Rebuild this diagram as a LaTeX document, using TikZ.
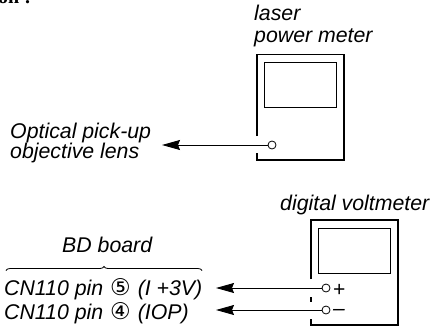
\documentclass[tikz,border=0pt]{standalone}
\usepackage{fontspec}
\setmainfont{Liberation Sans}
\newfontfamily\circfont{DejaVu Sans}
\newfontfamily\headfont{Liberation Serif}
\usetikzlibrary{arrows.meta}
\usetikzlibrary{decorations.pathreplacing}
\newcommand{\pinmark}[1]{\hspace{1pt}{\circfont\upshape\fontsize{23}{23}\selectfont #1}\hspace{7pt}}
\tikzset{
  lbl/.style={font=\itshape\fontsize{21.3}{21.3}\selectfont,inner sep=0pt,anchor=base west},
  sign/.style={font=\itshape\fontsize{21}{21}\selectfont,inner sep=0pt},
  meter/.style={line width=1.5pt},
  screen/.style={draw,line width=0.9pt,minimum width=72pt,minimum height=45pt,inner sep=0pt,anchor=north west},
  lead/.style={line width=0.9pt,-{Stealth[length=18pt,width=10pt,inset=2pt]}},
  jack/.style={circle,draw,fill=white,line width=0.8pt,minimum size=8pt,inner sep=0pt},
}
\begin{document}
\begin{tikzpicture}[x=1pt,y=-1pt]
\useasboundingbox (0,0) rectangle (430,329);
\node[inner sep=0pt,anchor=base west,font=\headfont\bfseries\fontsize{20}{20}\selectfont] (cut) at (-2,3.5) {on :};

% power meter
\draw[meter] (257,136) -- (257,54.5) -- (344,54.5) -- (344,160) -- (257,160) -- (257,153);
\node[screen] (screenA) at (264,62) {};
\node[jack] (jackA) at (272,145) {};
\coordinate (tipA) at (162,145);
\draw[lead] (jackA) -- (tipA);
\node[lbl] (laser) at (254,21) {laser};
\node[lbl] (pmeter) at (254,42) {power meter};
\node[lbl] (pickup) at (10,138) {Optical pick-up};
\node[lbl] (lens) at (10,158) {objective lens};

% voltmeter
\draw[meter] (311,279) -- (311,220) -- (398,220) -- (398,325) -- (311,325) -- (311,319);
\draw[meter] (311,297) -- (311,302);
\node[screen] (screenB) at (318,227.5) {};
\node[jack] (jackP) at (326,288) {};
\node[jack] (jackM) at (326,310) {};
\coordinate (tipP) at (216,288);
\coordinate (tipM) at (216,310);
\draw[lead] (jackP) -- (tipP);
\draw[lead] (jackM) -- (tipM);
\node[sign] (plus) at (339,290) {+};
\node[sign] (minus) at (339,312) {–};
\node[lbl] (dvm) at (280,210) {digital voltmeter};

% BD board
\node[lbl] (bd) at (62,252) {BD board};
\coordinate (braceL) at (6,270.5);
\coordinate (braceR) at (202,270.5);
\draw[decorate,decoration={brace,amplitude=4pt},line width=0.8pt] (braceL) -- (braceR);
\node[lbl] (pinA) at (4,295) {CN110 pin \pinmark{⑤}(I +3V)};
\node[lbl] (pinB) at (4,319) {CN110 pin \pinmark{④}(IOP)};
\end{tikzpicture}
\end{document}
